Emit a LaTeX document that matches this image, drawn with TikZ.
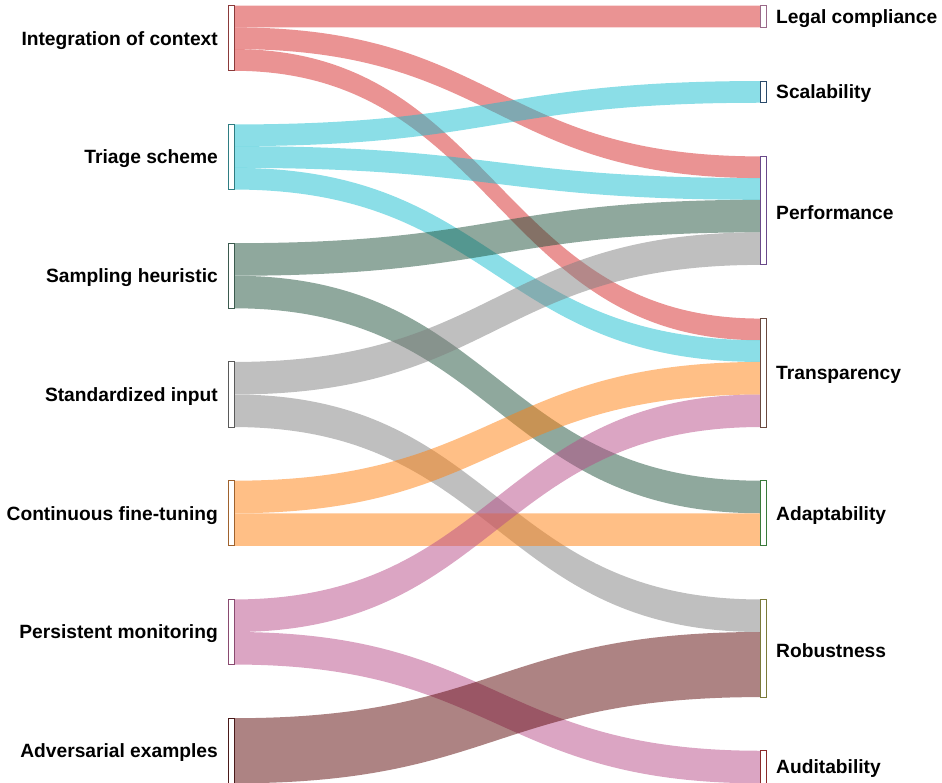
\documentclass[tikz,border=0pt]{standalone}
\usepackage{fontspec}
\setmainfont{Liberation Sans}
% link colours (drawn at half opacity)
\definecolor{cIC}{HTML}{D62728}
\definecolor{cTS}{HTML}{17BECF}
\definecolor{cSH}{HTML}{1F513B}
\definecolor{cSI}{HTML}{7F7F7F}
\definecolor{cCF}{HTML}{FF7F0E}
\definecolor{cPM}{HTML}{B74B87}
\definecolor{cAE}{HTML}{5B0808}
% bar outline colours
\definecolor{bIC}{HTML}{8B3A3A}
\definecolor{bTS}{HTML}{2E7D82}
\definecolor{bSH}{HTML}{3B5A4E}
\definecolor{bSI}{HTML}{5A5A5A}
\definecolor{bCF}{HTML}{A0622D}
\definecolor{bPM}{HTML}{8A4A70}
\definecolor{bAE}{HTML}{4A1A1A}
\definecolor{bLC}{HTML}{9A6A8A}
\definecolor{bSC}{HTML}{2A4A6A}
\definecolor{bPF}{HTML}{6A4A8A}
\definecolor{bTR}{HTML}{6A4A40}
\definecolor{bAD}{HTML}{3A7A3A}
\definecolor{bRB}{HTML}{7A7A3A}
\definecolor{bAU}{HTML}{8A2A2A}
\begin{document}
\begin{tikzpicture}[x=1pt,y=-1pt,
  bar/.style={draw=#1,fill=white,line width=1pt,inner sep=0pt,outer sep=0pt,
              minimum width=6pt,anchor=north west},
  lbl/.style={font=\fontsize{19.2}{22}\selectfont\bfseries,inner sep=0pt},
  band/.style={fill=#1,fill opacity=0.5,draw=none}]
\useasboundingbox (0,0) rectangle (942,783);
% band from the left column (x=234) to the right column (x=760)
% #1 colour, #2/#3 top/bottom on the left, #4/#5 top/bottom on the right
\newcommand\flowband[5]{%
  \fill[band=#1] (234,#2) .. controls (497,#2) and (497,#4) .. (760,#4)
     -- (760,#5) .. controls (497,#5) and (497,#3) .. (234,#3) -- cycle;}

% Integration of context
\flowband{cIC}{5.7}{27.4}{5.7}{27.4}
\flowband{cIC}{27.4}{49.1}{156.4}{178.1}
\flowband{cIC}{49.1}{70.8}{318.55}{340.25}
% Triage scheme
\flowband{cTS}{124.45}{146.15}{81.05}{102.75}
\flowband{cTS}{146.15}{167.85}{178.1}{199.8}
\flowband{cTS}{167.85}{189.55}{340.25}{361.95}
% Sampling heuristic
\flowband{cSH}{243.2}{275.75}{199.8}{232.35}
\flowband{cSH}{275.75}{308.3}{480.7}{513.25}
% Standardized input
\flowband{cSI}{361.95}{394.5}{232.35}{264.9}
\flowband{cSI}{394.5}{427.05}{599.45}{632}
% Continuous fine-tuning
\flowband{cCF}{480.7}{513.25}{361.95}{394.5}
\flowband{cCF}{513.25}{545.8}{513.25}{545.8}
% Persistent monitoring
\flowband{cPM}{599.45}{632}{394.5}{427.05}
\flowband{cPM}{632}{664.55}{750.75}{783.3}
% Adversarial examples
\flowband{cAE}{718.2}{783.3}{632}{697.1}

% source bars
\node[bar=bIC,minimum height=65.1pt] (ic) at (228,5.7) {};
\node[bar=bTS,minimum height=65.1pt] (ts) at (228,124.45) {};
\node[bar=bSH,minimum height=65.1pt] (sh) at (228,243.2) {};
\node[bar=bSI,minimum height=65.1pt] (si) at (228,361.95) {};
\node[bar=bCF,minimum height=65.1pt] (cf) at (228,480.7) {};
\node[bar=bPM,minimum height=65.1pt] (pm) at (228,599.45) {};
\node[bar=bAE,minimum height=65.1pt] (ae) at (228,718.2) {};
% target bars
\node[bar=bLC,minimum height=21.7pt]  (lc) at (760,5.7) {};
\node[bar=bSC,minimum height=21.7pt]  (sc) at (760,81.05) {};
\node[bar=bPF,minimum height=108.5pt] (pf) at (760,156.4) {};
\node[bar=bTR,minimum height=108.5pt] (tr) at (760,318.55) {};
\node[bar=bAD,minimum height=65.1pt]  (ad) at (760,480.7) {};
\node[bar=bRB,minimum height=97.65pt] (rb) at (760,599.45) {};
\node[bar=bAU,minimum height=32.55pt] (au) at (760,750.75) {};

% labels
\foreach \n/\t in {ic/Integration of context, ts/Triage scheme,
  sh/Sampling heuristic, si/Standardized input, cf/Continuous fine-tuning,
  pm/Persistent monitoring, ae/Adversarial examples}
  \node[lbl,anchor=east] (\n-l) at ([xshift=-10pt,yshift=-2pt]\n.west) {\t};
\foreach \n/\t in {lc/Legal compliance, sc/Scalability, pf/Performance,
  tr/Transparency, ad/Adaptability, rb/Robustness, au/Auditability}
  \node[lbl,anchor=west] (\n-l) at ([xshift=10pt,yshift=-2pt]\n.east) {\t};
\end{tikzpicture}
\end{document}
